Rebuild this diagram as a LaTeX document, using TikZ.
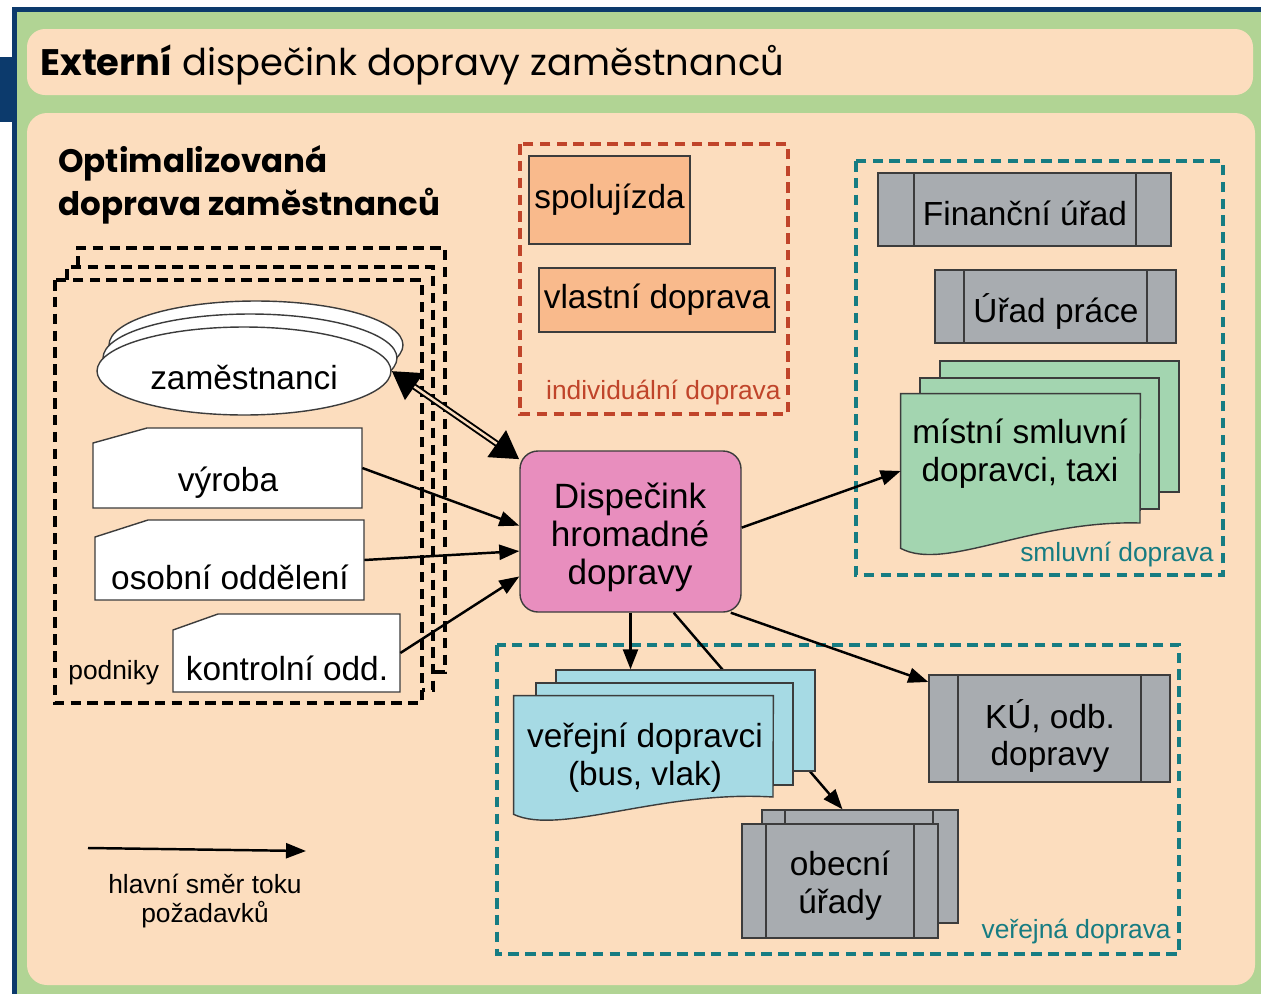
\documentclass[tikz,border=0pt]{standalone}
\usepackage{fontspec}
\setmainfont{Liberation Sans}
\newfontfamily\headfont{Poppins}
\usetikzlibrary{shapes.geometric, arrows.meta, positioning, fit, calc}
\definecolor{framenavy}{RGB}{12,58,108}
\definecolor{framegreen}{RGB}{177,212,148}
\definecolor{panelpeach}{RGB}{252,221,190}
\definecolor{disppink}{RGB}{232,142,190}
\definecolor{indsalmon}{RGB}{249,186,140}
\definecolor{officegray}{RGB}{168,172,176}
\definecolor{contractgreen}{RGB}{163,213,176}
\definecolor{publicblue}{RGB}{166,218,228}
\definecolor{dashteal}{RGB}{22,124,130}
\definecolor{dashred}{RGB}{192,68,42}
\definecolor{edgegray}{RGB}{60,60,60}

\begin{document}
\begin{tikzpicture}[
    x=0.02cm, y=-0.02cm,
    every node/.style={font=\fontsize{19}{21.5}\selectfont, inner sep=0pt},
    box/.style={draw=edgegray, line width=0.8pt},
    grp/.style={line width=2.1pt, dash pattern=on 6pt off 3.6pt},
    flow/.style={line width=1.4pt, -{Triangle[length=0.4cm, width=0.3cm]}},
    small/.style={font=\fontsize{15}{17}\selectfont}
]
\useasboundingbox (0,0) rectangle (1261,994);

% Frame
\fill[white] (0,0) rectangle (1261,994);
\fill[framegreen] (17,12) rectangle (1261,994);
\fill[framenavy] (12,7) rectangle (1261,12);
\fill[framenavy] (12,7) rectangle (17,994);
\fill[framenavy] (0,57) rectangle (17,122);

% Title
\fill[panelpeach, rounded corners=0.36cm] (27,29) rectangle (1253,95);
\node[anchor=base west, font=\headfont\fontsize{21}{23}\selectfont] (title) at (40,75)
    {\textbf{Externí} dispečink dopravy zaměstnanců};

% Main panel
\fill[panelpeach, rounded corners=0.4cm] (27,113) rectangle (1255,985);
\node[anchor=base west, font=\headfont\bfseries\fontsize{18.5}{21}\selectfont] (opt1) at (58,172) {Optimalizovaná};
\node[anchor=base west, font=\headfont\bfseries\fontsize{18.5}{21}\selectfont] (opt2) at (58,215) {doprava zaměstnanců};

% Companies (stacked dashed frames)
\draw[grp] (78,267) -- (78,248) -- (445,248) -- (445,672) -- (433,672);
\draw[grp] (67,280) -- (67,267) -- (433,267) -- (433,690) -- (422,690);
\draw[grp] (55,280) rectangle (422,703);
\node[small, anchor=west] (podniky) at (68,673) {podniky};

% Employees
\node[box, fill=white, ellipse, minimum width=5.88cm, minimum height=1.76cm] (zam3) at (256,345) {};
\node[box, fill=white, ellipse, minimum width=5.88cm, minimum height=1.76cm] (zam2) at (250,358) {};
\node[box, fill=white, ellipse, minimum width=5.88cm, minimum height=1.76cm] (zam) at (244,371) {};
\node (zamlbl) at (244,378) {zaměstnanci};

% Departments
\filldraw[box, fill=white] (93,443) -- (147,428) -- (362,428) -- (362,508) -- (93,508) -- cycle;
\node[fit={(93,428) (362,508)}] (vyroba) {};
\node (vyrobalbl) at (228,483) {výroba};
\filldraw[box, fill=white] (95,537) -- (148,520) -- (364,520) -- (364,600) -- (95,600) -- cycle;
\node[fit={(95,520) (364,600)}] (osobni) {};
\node (osobnilbl) at (230,577) {osobní oddělení};
\filldraw[box, fill=white] (173,630) -- (218,614) -- (400,614) -- (400,692) -- (173,692) -- cycle;
\node[fit={(173,614) (400,692)}] (kontrol) {};
\node (kontrollbl) at (287,668) {kontrolní odd.};

% Individual transport
\draw[grp, dashred] (520,144) rectangle (788,414);
\node[small, text=dashred, anchor=east] (indlbl) at (781,393) {individuální doprava};
\node[box, fill=indsalmon, fit={(529,156) (690,244)}, label=center:spolujízda] (spoluj) {};
\node[box, fill=indsalmon, fit={(539,268) (775,332)}, label=center:vlastní doprava] (vlastni) {};

% Contract transport
\draw[grp, dashteal] (856,161) rectangle (1223,575);
\node[small, text=dashteal, anchor=east] (smllbl) at (1214,555) {smluvní doprava};
\node[box, fill=officegray, fit={(878,173) (1171,246)}] (financni) {};
\draw[box] (914,173) -- (914,246) (1136,173) -- (1136,246);
\node (financnilbl) at (1025,213) {Finanční úřad};
\node[box, fill=officegray, fit={(935,270) (1176,343)}] (uradprace) {};
\draw[box] (964,270) -- (964,343) (1147,270) -- (1147,343);
\node (uradpracelbl) at (1056,311) {Úřad práce};
\node[box, fill=contractgreen, fit={(940,361) (1179,492)}] (mistni3) {};
\node[box, fill=contractgreen, fit={(920,378) (1159,509)}] (mistni2) {};
\node[fit={(901,394) (1140,548)}] (mistni) {};
\filldraw[box, fill=contractgreen] (mistni.north west) -- (mistni.north east) -- (1140,523)
    .. controls (1030,520) and (945,572) .. (mistni.south west) -- cycle;
\node[align=center] (mistnilbl) at (1020,454) {místní smluvní\\dopravci, taxi};

% Public transport
\draw[grp, dashteal] (497,645) rectangle (1179,954);
\node[small, text=dashteal, anchor=east] (verlbl) at (1171,932) {veřejná doprava};
\node[box, fill=officegray, fit={(929,675) (1170,782)}] (ku) {};
\draw[box] (958,675) -- (958,782) (1141,675) -- (1141,782);
\node[align=center] (kulbl) at (1050,736) {KÚ, odb.\\dopravy};
\node[box, fill=officegray, fit={(762,810) (958,923)}] (obecni2) {};
\draw[box] (785,810) -- (785,824) (933,810) -- (933,824);
\node[box, fill=officegray, fit={(742,824) (938,938)}] (obecni) {};
\draw[box] (766,824) -- (766,938) (914,824) -- (914,938);
\node[align=center] (obecnilbl) at (840,886) {obecní\\úřady};

% Dispatch
\node[box, fill=disppink, rounded corners=0.36cm, fit={(520,451) (741,612)}] (disp) {};
\node[align=center, font=\fontsize{20}{21.6}\selectfont] (displbl) at (630,537)
    {Dispečink\\hromadné\\dopravy};

\draw[flow] (disp.-62) -- (obecni2.107);

\node[box, fill=publicblue, fit={(556,670) (815,771)}] (verejni3) {};
\node[box, fill=publicblue, fit={(536,683) (793,785)}] (verejni2) {};
\node[fit={(514,696) (773,814)}] (verejni) {};
\filldraw[box, fill=publicblue] (verejni.north west) -- (verejni.north east) -- (773,797)
    .. controls (660,790) and (560,836) .. (verejni.south west) -- cycle;
\node[align=center] (verejnilbl) at (645,758) {veřejní dopravci\\(bus, vlak)};

% Flows
\draw[line width=3.6pt, {Triangle[length=0.55cm, width=0.62cm]}-{Triangle[length=0.55cm, width=0.62cm]}]
    (zam.east) -- (disp.147);
\draw[panelpeach, line width=1.4pt, shorten <=0.55cm, shorten >=0.55cm] (zam.east) -- (disp.147);
\draw[flow] (vyroba.east) -- (disp.177);
\draw[flow] (osobni.east) -- (disp.190);
\draw[flow] (kontrol.east) -- (disp.202);
\draw[flow] (disp.2) -- (mistni.west);
\draw[flow] (disp.south) -- (disp.south |- verejni3.north);
\draw[flow] (disp.-39) -- (ku.159);

% Legend
\coordinate (legstart) at (88,848);
\coordinate (legtip) at (306,851);
\draw[flow] (legstart) -- (legtip);
\node[small, align=center] (leglbl) at (205,901) {hlavní směr toku\\požadavků};

\end{tikzpicture}
\end{document}
